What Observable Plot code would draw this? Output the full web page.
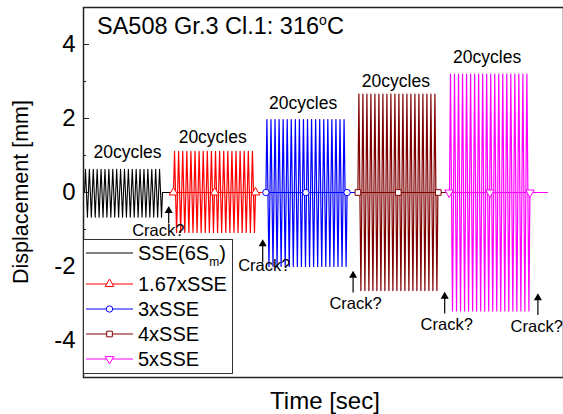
<!DOCTYPE html>
<html><head><meta charset="utf-8">
<script src="https://cdn.jsdelivr.net/npm/d3@7"></script>
<script src="https://cdn.jsdelivr.net/npm/@observablehq/plot@0.6"></script>
<style>body{margin:0;background:#fff} svg{font-family:"Liberation Sans",Arial,sans-serif}</style>
</head><body><div id="chart"></div>
<script>
// ---- data ----
const seriesNames = ["SSE(6Sm)", "1.67xSSE", "3xSSE", "4xSSE", "5xSSE"];
const seriesColors = ["#000000", "#ff0000", "#0000ff", "#800000", "#ff00ff"];
const blockStart = [0.25, 22.5, 45.6, 68.6, 91.5];   // sec
const blockEnd   = [19.75, 43.0, 65.9, 88.6, 111.6]; // sec
const flatEnd    = [22.5, 45.6, 68.6, 91.5, 116.0];  // sec
const peaks = [
  [0.63,0.63,0.63,0.63,0.63,0.63,0.63,0.63,0.63,0.63,0.63,0.63,0.63,0.63,0.63,0.63,0.63,0.63,0.63,0.63],
  [1.11,1.11,1.11,1.11,1.11,1.11,1.11,1.11,1.11,1.11,1.11,1.11,1.11,1.11,1.11,1.11,1.11,1.11,1.11,1.11],
  [1.97,1.97,1.97,1.97,1.97,1.97,1.97,1.97,1.97,1.97,1.97,1.97,1.97,1.97,1.97,1.97,1.97,1.97,1.97,1.97],
  [2.66,2.66,2.66,2.66,2.66,2.66,2.66,2.66,2.66,2.66,2.66,2.66,2.66,2.66,2.66,2.66,2.66,2.66,2.66,2.66],
  [3.20,3.20,3.20,3.20,3.20,3.20,3.20,3.20,3.20,3.20,3.20,3.20,3.20,3.20,3.20,3.20,3.20,3.20,3.20,3.20]
];
const troughs = [
  [-0.67,-0.67,-0.67,-0.67,-0.67,-0.67,-0.67,-0.67,-0.67,-0.67,-0.67,-0.67,-0.67,-0.67,-0.67,-0.67,-0.67,-0.67,-0.67,-0.67],
  [-1.08,-1.08,-1.08,-1.08,-1.08,-1.08,-1.08,-1.08,-1.08,-1.08,-1.08,-1.08,-1.08,-1.08,-1.08,-1.08,-1.08,-1.08,-1.08,-1.08],
  [-2.00,-2.00,-2.00,-2.00,-2.00,-2.00,-2.00,-2.00,-2.00,-2.00,-2.00,-2.00,-2.00,-2.00,-2.00,-2.00,-2.00,-2.00,-2.00,-2.00],
  [-2.65,-2.65,-2.65,-2.65,-2.65,-2.65,-2.65,-2.65,-2.65,-2.65,-2.65,-2.65,-2.65,-2.65,-2.65,-2.65,-2.65,-2.65,-2.65,-2.65],
  [-3.20,-3.20,-3.20,-3.20,-3.20,-3.20,-3.20,-3.20,-3.20,-3.20,-3.20,-3.20,-3.20,-3.20,-3.20,-3.20,-3.20,-3.20,-3.20,-3.20]
];
const markerTimes = [
  [],
  [22.5, 32.8, 43.0],
  [45.6, 55.6, 65.9],
  [68.6, 78.7, 88.7],
  [91.4, 101.6, 111.6]
];
const markerSymbols = [null, "triangle", "circle", "square", "triangle"];
const markerRotate = [0, 0, 0, 0, 180];

const cycleLabelX = [11.0, 32.3, 54.9, 78.1, 100.9];
const cycleLabelY = [1.08, 1.48, 2.40, 2.99, 3.66];
const cycleLabelText = "20cycles";

const crackArrowX   = [21.3, 44.8, 67.4, 90.3, 113.6];
const crackArrowTip = [-0.41, -1.31, -2.16, -2.73, -2.77];
const crackArrowBot = [-0.84, -1.89, -2.70, -3.27, -3.31];
const crackTextX = [18.7, 45.2, 68.0, 90.8, 113.3];
const crackTextY = [-1.04, -1.98, -3.00, -3.58, -3.64];
const crackText = "Crack?";

const yMajor = [-4, -2, 0, 2, 4];
const yMinor = [-5, -3, -1, 1, 3, 5];

// ---- build ----
const waves = seriesNames.map((name, s) => {
  const pts = [];
  const period = (blockEnd[s] - blockStart[s]) / peaks[s].length;
  peaks[s].forEach((p, i) => {
    const t0 = blockStart[s] + i * period;
    pts.push({t: t0, v: 0});
    pts.push({t: t0 + period / 4, v: p});
    pts.push({t: t0 + period / 2, v: 0});
    pts.push({t: t0 + 3 * period / 4, v: troughs[s][i]});
  });
  pts.push({t: blockEnd[s], v: 0});
  pts.push({t: flatEnd[s], v: 0});
  return pts;
});

const marks = [];
seriesNames.forEach((name, s) => {
  marks.push(Plot.line(waves[s], {x: "t", y: "v", stroke: seriesColors[s], strokeWidth: s === 0 ? 1.1 : 1.2}));
  if (s > 0) marks.push(Plot.ruleY([0], {x1: blockStart[s], x2: blockEnd[s], stroke: seriesColors[s], strokeWidth: 1}));
});
seriesNames.forEach((name, s) => {
  if (markerTimes[s].length) marks.push(Plot.dot(markerTimes[s], {x: d => d, y: 0, symbol: markerSymbols[s], r: 3.2, rotate: markerRotate[s], stroke: seriesColors[s], fill: "white", strokeWidth: 1}));
});
marks.push(Plot.text(cycleLabelX, {x: d => d, y: (d, i) => cycleLabelY[i], text: () => cycleLabelText, fontSize: 17.5, fill: "black"}));
const arrowIdx = crackArrowX.map((d, i) => i);
marks.push(Plot.link(arrowIdx, {x1: i => crackArrowX[i], x2: i => crackArrowX[i], y1: i => crackArrowBot[i], y2: i => crackArrowTip[i], stroke: "black", strokeWidth: 1.2}));
marks.push(Plot.dot(arrowIdx, {x: i => crackArrowX[i], y: i => crackArrowTip[i], symbol: "triangle", r: 3, fill: "black", stroke: "none", dy: 3}));
marks.push(Plot.text(arrowIdx, {x: i => crackTextX[i], y: i => crackTextY[i], text: () => crackText, fontSize: 16.5, fill: "black"}));
marks.push(Plot.axisY({ticks: yMajor, tickSize: -6, tickPadding: 14, tickFormat: d => String(d), fontSize: 24, label: null, stroke: "#222"}));
marks.push(Plot.axisY({ticks: yMinor, tickSize: -3, text: null, label: null, stroke: "#222"}));
marks.push(Plot.frame({stroke: "#222", strokeWidth: 1.5}));

const plot = Plot.plot({
  width: 563, height: 414,
  marginLeft: 83, marginRight: 0, marginTop: 7, marginBottom: 37,
  x: {domain: [0, 120], axis: null},
  y: {domain: [-5, 5], axis: null},
  style: {fontFamily: "'Liberation Sans', Arial, sans-serif", background: "white", color: "black"},
  marks
});
document.getElementById("chart").appendChild(plot);

const svg = d3.select(plot);
// title
const title = svg.append("text").attr("x", 97).attr("y", 34).attr("text-anchor", "start").attr("font-size", 23.5).attr("fill", "black");
title.append("tspan").text("SA508 Gr.3 Cl.1: 316");
title.append("tspan").attr("font-size", 14).attr("dy", -9).text("o");
title.append("tspan").attr("dy", 9).text("C");
// axis labels
svg.append("text").attr("transform", "translate(28,192) rotate(-90)").attr("text-anchor", "middle").attr("font-size", 21.5).attr("fill", "black").text("Displacement [mm]");
svg.append("text").attr("x", 325).attr("y", 409).attr("text-anchor", "middle").attr("font-size", 24).attr("fill", "black").text("Time [sec]");
// legend
const lg = svg.append("g");
lg.append("rect").attr("x", 83.5).attr("y", 239.5).attr("width", 149).attr("height", 134).attr("fill", "white").attr("stroke", "#333").attr("stroke-width", 1);
const rowY = [253, 284, 309, 334, 359];
const d3Sym = {triangle: d3.symbolTriangle, circle: d3.symbolCircle, square: d3.symbolSquare};
seriesNames.forEach((name, s) => {
  const y = rowY[s];
  lg.append("line").attr("x1", 86).attr("x2", 133).attr("y1", y).attr("y2", y).attr("stroke", seriesColors[s]).attr("stroke-width", 1);
  if (markerSymbols[s]) {
    lg.append("path").attr("d", d3.symbol(d3Sym[markerSymbols[s]], 32)()).attr("transform", `translate(109.5,${y}) rotate(${markerRotate[s]})`).attr("fill", "white").attr("stroke", seriesColors[s]).attr("stroke-width", 1);
  }
  const t = lg.append("text").attr("x", 138).attr("y", y + 7).attr("text-anchor", "start").attr("font-size", 20).attr("fill", "black");
  if (s === 0) {
    t.append("tspan").text("SSE(6S");
    t.append("tspan").attr("font-size", 12).attr("dy", 6).text("m");
    t.append("tspan").attr("dy", -6).text(")");
  } else {
    t.text(name);
  }
});
</script></body></html>
